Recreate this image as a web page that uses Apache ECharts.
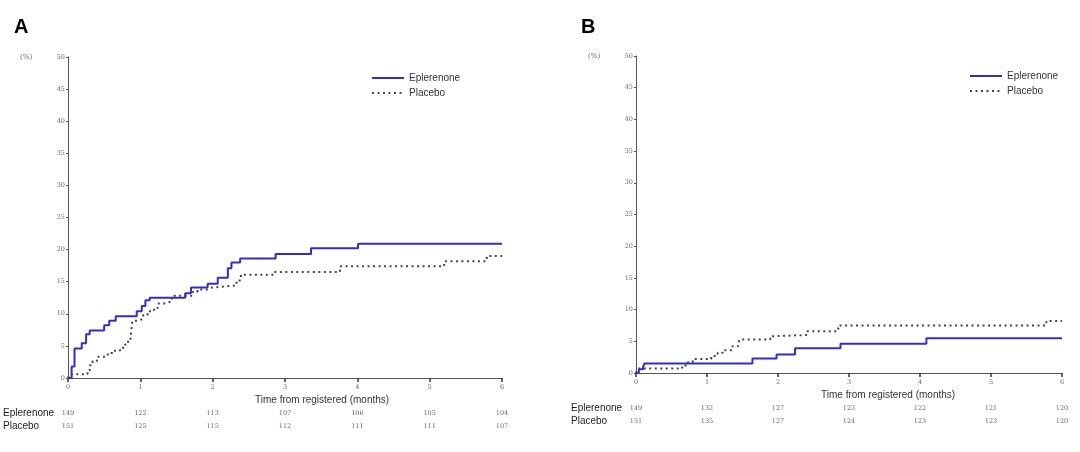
<!DOCTYPE html>
<html><head><meta charset="utf-8">
<script src="https://cdn.jsdelivr.net/npm/echarts@6/dist/echarts.min.js"></script>
<style>html,body{margin:0;padding:0;background:#fff}#c{width:1080px;height:452px}</style>
</head><body><div id="c"></div>
<script>
// Data
const monthTicks = [0, 1, 2, 3, 4, 5, 6];
const eplA = [[0,0],[0.05,1.8],[0.09,4.6],[0.19,5.4],[0.25,6.8],[0.30,7.4],[0.50,8.2],[0.57,8.9],[0.66,9.6],[0.95,10.4],[1.02,11.2],[1.07,12.1],[1.13,12.5],[1.62,13.2],[1.70,14.1],[1.93,14.7],[2.07,15.6],[2.21,17.1],[2.26,18.0],[2.38,18.6],[2.87,19.3],[3.36,20.2],[4.01,20.9],[6,20.9]];
const plaA = [[0,0],[0.02,0.6],[0.27,1.2],[0.30,2.0],[0.34,2.6],[0.40,3.3],[0.51,3.4],[0.55,3.9],[0.65,4.3],[0.72,4.7],[0.79,5.2],[0.83,6.1],[0.87,6.8],[0.89,8.9],[0.96,9.2],[1.04,9.8],[1.10,10.4],[1.19,10.9],[1.24,11.6],[1.33,11.9],[1.42,12.4],[1.47,12.8],[1.72,13.4],[1.79,13.8],[1.93,14.1],[1.99,14.4],[2.33,15.2],[2.39,16.1],[2.85,16.5],[3.76,17.4],[5.20,18.2],[5.79,19.0],[6,19.0]];
const eplB = [[0,0],[0.04,0.6],[0.10,1.0],[0.12,1.5],[1.64,2.3],[1.98,2.9],[2.24,3.9],[2.88,4.6],[4.09,5.5],[6,5.5]];
const plaB = [[0,0],[0.02,0.7],[0.65,1.2],[0.73,1.7],[0.80,2.2],[1.06,2.7],[1.15,3.2],[1.22,3.6],[1.36,4.2],[1.44,4.7],[1.46,5.3],[1.89,5.8],[1.93,6.0],[2.41,6.6],[2.83,7.0],[2.86,7.5],[5.78,8.2],[6,8.2]];
const riskEplA = [149,122,113,107,106,105,104];
const riskPlaA = [151,125,115,112,111,111,107];
const riskEplB = [149,132,127,123,122,121,120];
const riskPlaB = [151,135,127,124,123,123,120];

const chart = echarts.init(document.getElementById('c'));
const tickFont = {fontFamily:'DejaVu Serif', fontSize:6.5, color:'#666'};
const axisCol = '#555';
function mainX(g){
  return {type:'value', gridIndex:g, min:0, max:6, interval:1,
    axisLine:{show:true, lineStyle:{color:axisCol, width:1}},
    axisTick:{show:true, length:4, lineStyle:{color:'#333', width:1.5}},
    axisLabel:Object.assign({margin:6, formatter:v=>String(v)}, tickFont),
    splitLine:{show:false}};
}
function riskX(g, arr, off){
  return {type:'value', gridIndex:g, min:0, max:6, interval:1, position:'bottom', offset:off,
    axisLine:{show:false}, axisTick:{show:false}, splitLine:{show:false},
    axisLabel:Object.assign({margin:6, formatter:v=>String(arr[v])}, tickFont)};
}
function yAx(g){
  return {type:'value', gridIndex:g, min:0, max:50, interval:5,
    axisLine:{show:true, lineStyle:{color:axisCol, width:1}},
    axisTick:{show:true, length:2, lineStyle:{color:'#555'}},
    axisLabel:Object.assign({margin:3}, tickFont),
    splitLine:{show:false}};
}
const blue = {color:'#2f2fc8', width:2};
const dots = {color:'#444', width:2, type:[2,3.5]};
function ser(name, data, xi, yi, ls){
  return {name, type:'line', step:'end', data, xAxisIndex:xi, yAxisIndex:yi,
    symbol:'none', showSymbol:false, lineStyle:ls, itemStyle:{color:ls.color}, animation:false};
}
const txt = (x,y,t,s) => ({type:'text', left:x, top:y, style:Object.assign({text:t, fill:'#222', font:'10px "Liberation Sans", Arial'}, s||{})});
const legendBase = {orient:'vertical', itemWidth:32, itemHeight:10, itemGap:5, data:['Eplerenone','Placebo'],
  itemStyle:{opacity:0}, textStyle:{fontFamily:'Liberation Sans', fontSize:10, color:'#333'}, selectedMode:false};
chart.setOption({
  animation:false,
  grid:[{left:68, top:57, width:434, height:321},{left:636, top:56, width:426, height:317}],
  xAxis:[mainX(0), riskX(0, riskEplA, 26), riskX(0, riskPlaA, 39), mainX(1), riskX(1, riskEplB, 26), riskX(1, riskPlaB, 39)],
  yAxis:[yAx(0), yAx(1)],
  legend:[
    Object.assign({left:366, top:68}, legendBase),
    Object.assign({left:964, top:66}, legendBase)
  ],
  series:[
    ser('Eplerenone', eplA, 0, 0, blue),
    ser('Placebo', plaA, 0, 0, dots),
    ser('Eplerenone', eplB, 3, 1, blue),
    ser('Placebo', plaB, 3, 1, dots)
  ],
  graphic:[
    txt(14, 17, 'A', {font:'bold 20px "Liberation Sans", Arial', fill:'#000'}),
    txt(581, 17, 'B', {font:'bold 20px "Liberation Sans", Arial', fill:'#000'}),
    txt(20, 54, '(%)', {font:'7px "DejaVu Serif"', fill:'#666'}),
    txt(588, 53, '(%)', {font:'7px "DejaVu Serif"', fill:'#666'}),
    txt(255, 395, 'Time from registered (months)', {fill:'#333'}),
    txt(821, 390, 'Time from registered (months)', {fill:'#333'}),
    txt(3, 408, 'Eplerenone'), txt(3, 421, 'Placebo'),
    txt(571, 403, 'Eplerenone'), txt(571, 416, 'Placebo')
  ]
});
</script></body></html>
